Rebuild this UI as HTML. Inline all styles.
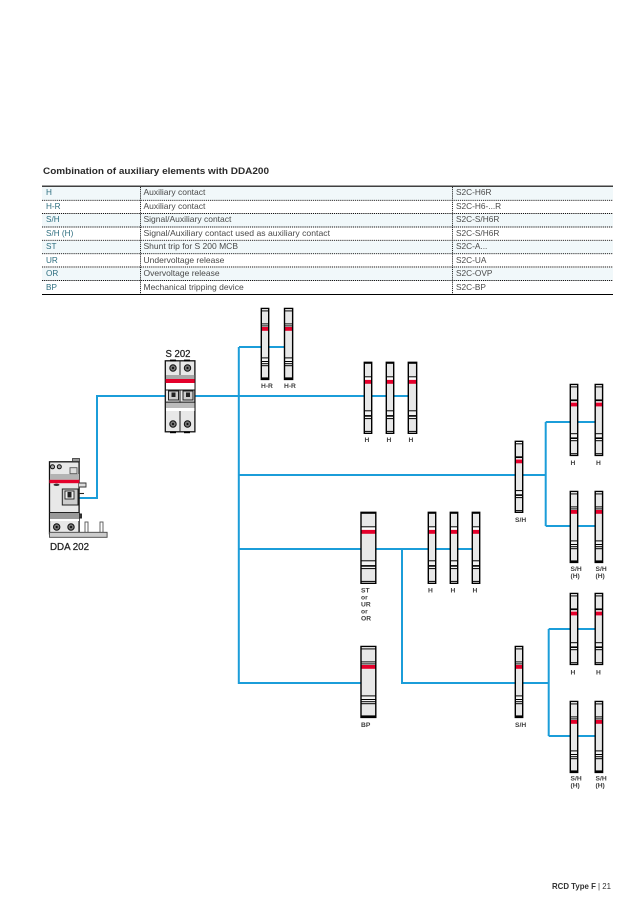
<!DOCTYPE html>
<html>
<head>
<meta charset="utf-8">
<style>
html,body{margin:0;padding:0;background:#fff}
svg{display:block}
text{font-family:"Liberation Sans",Arial,sans-serif}
.t1{font-size:8.2px;fill:#2f6f80}
.t2{font-size:8.5px;fill:#4a4a4a}
.t3{font-size:8.3px;fill:#4a4a4a}
.lb{font-size:6.7px;font-weight:bold;fill:#3c3c3c}
.w{fill:none;stroke:#1b9dd9;stroke-width:2}
.o{fill:none;stroke:#000;stroke-width:1.4;vector-effect:non-scaling-stroke}
</style>
</head>
<body>
<svg width="643" height="909" viewBox="0 0 643 909" xmlns="http://www.w3.org/2000/svg">
<defs>
<g id="A">
<rect width="7.4" height="71" fill="#e8e8e8"/>
<rect y="0" width="7.4" height="2.2" fill="#fff"/><rect y="2" width="7.4" height="1" fill="#000"/>
<rect y="15" width="7.4" height="3.4" fill="#fff"/><rect y="15" width="7.4" height="1" fill="#000"/><rect y="17" width="7.4" height="1" fill="#000"/>
<rect y="18.6" width="7.4" height="3.8" fill="#e4002b"/>
<rect y="49" width="7.4" height="8" fill="#f4f4f4"/><rect y="49" width="7.4" height="1" fill="#000"/><rect y="52.6" width="7.4" height="1" fill="#000"/><rect y="54.8" width="7.4" height="1" fill="#000"/><rect y="56.8" width="7.4" height="1" fill="#000"/>
<rect y="69" width="7.4" height="2" fill="#000"/>
<rect width="7.4" height="71" class="o"/>
</g>
<g id="B">
<rect width="7.4" height="71" fill="#e8e8e8"/>
<rect y="0" width="7.4" height="1.5" fill="#000"/>
<rect y="14" width="7.4" height="3.6" fill="#fff"/><rect y="14" width="7.4" height="1" fill="#000"/>
<rect y="17.6" width="7.4" height="3.9" fill="#e4002b"/>
<rect y="48" width="7.4" height="8.5" fill="#f4f4f4"/><rect y="48" width="7.4" height="1" fill="#000"/><rect y="52.8" width="7.4" height="1.6" fill="#000"/><rect y="55.8" width="7.4" height="1" fill="#000"/>
<rect y="69" width="7.4" height="2" fill="#fff"/><rect y="68.6" width="7.4" height="1" fill="#000"/>
<rect width="7.4" height="71" class="o"/>
</g>
<g id="C">
<rect width="7.4" height="71" fill="#e8e8e8"/>
<rect y="0" width="7.4" height="2.2" fill="#fff"/><rect y="2" width="7.4" height="1" fill="#000"/>
<rect y="15" width="7.4" height="3.4" fill="#fff"/><rect y="15" width="7.4" height="1.8" fill="#000"/>
<rect y="18.2" width="7.4" height="3.8" fill="#e4002b"/>
<rect y="48.8" width="7.4" height="7.4" fill="#f4f4f4"/><rect y="48.8" width="7.4" height="1" fill="#000"/><rect y="53" width="7.4" height="1.6" fill="#000"/><rect y="55.8" width="7.4" height="1" fill="#000"/>
<rect y="69" width="7.4" height="2" fill="#fff"/><rect y="68.8" width="7.4" height="1" fill="#000"/>
<rect width="7.4" height="71" class="o"/>
</g>
</defs>

<text x="43" y="174" font-size="9.6" font-weight="bold" fill="#2a2a2a" textLength="226" lengthAdjust="spacingAndGlyphs">Combination of auxiliary elements with DDA200</text>

<g fill="#f1f8fa">
<rect x="42" y="187" width="571" height="13"/>
<rect x="42" y="214" width="571" height="13"/>
<rect x="42" y="241" width="571" height="12.5"/>
<rect x="42" y="268" width="571" height="12.5"/>
</g>
<path d="M42 186.2H613M42 294.5H613" stroke="#000" stroke-width="1.1" fill="none"/>
<path d="M42 200.3H613M42 213.5H613M42 227H613M42 240.3H613M42 253.7H613M42 267H613M42 280.5H613" stroke="#111" stroke-width=".9" stroke-dasharray="1.2 .9" fill="none"/>
<path d="M140.5 187V294M452.5 187V294" stroke="#111" stroke-width=".9" stroke-dasharray="1.2 .9" fill="none"/>

<g class="t1">
<text x="46" y="195">H</text><text x="46" y="209">H-R</text><text x="46" y="222">S/H</text><text x="46" y="236">S/H (H)</text><text x="46" y="249">ST</text><text x="46" y="263">UR</text><text x="46" y="276">OR</text><text x="46" y="290">BP</text>
</g>
<g class="t2">
<text x="143.5" y="195">Auxiliary contact</text><text x="143.5" y="209">Auxiliary contact</text><text x="143.5" y="222">Signal/Auxiliary contact</text><text x="143.5" y="236" textLength="186.5" lengthAdjust="spacingAndGlyphs">Signal/Auxiliary contact used as auxiliary contact</text><text x="143.5" y="249">Shunt trip for S 200 MCB</text><text x="143.5" y="263">Undervoltage release</text><text x="143.5" y="276">Overvoltage release</text><text x="143.5" y="290">Mechanical tripping device</text>
</g>
<g class="t3">
<text x="456" y="195">S2C-H6R</text><text x="456" y="209">S2C-H6-...R</text><text x="456" y="222">S2C-S/H6R</text><text x="456" y="236">S2C-S/H6R</text><text x="456" y="249">S2C-A...</text><text x="456" y="263">S2C-UA</text><text x="456" y="276">S2C-OVP</text><text x="456" y="290">S2C-BP</text>
</g>

<path class="w" d="M79 498H97V396H408M239 347H285M238.8 347V683H361M239 475H515M239 549H472M402 549V683H515M523 475H546M545.7 422V526M545.7 422H595M545.7 526H595M523 683H548.7M548.7 629V736M548.7 629H595M548.7 736H595"/>

<use href="#A" transform="translate(261.3 308.4)"/>
<use href="#A" transform="translate(284.5 308.4) scale(1.1 1)"/>
<use href="#B" transform="translate(364.3 362.3)"/>
<use href="#B" transform="translate(386.3 362.3)"/>
<use href="#B" transform="translate(408.3 362.3) scale(1.13 1)"/>
<use href="#B" transform="translate(361 512.3) scale(2 1)"/>
<use href="#B" transform="translate(428.3 512.3)"/>
<use href="#B" transform="translate(450.3 512.3)"/>
<use href="#B" transform="translate(472.3 512.3)"/>
<use href="#A" transform="translate(361 646.4) scale(2 1)"/>
<use href="#C" transform="translate(515.3 441.3)"/>
<use href="#C" transform="translate(570.3 384.4)"/>
<use href="#C" transform="translate(595.2 384.4)"/>
<use href="#A" transform="translate(570.3 491.4)"/>
<use href="#A" transform="translate(595.2 491.4)"/>
<use href="#A" transform="translate(515.3 646.4)"/>
<use href="#C" transform="translate(570.3 593.4)"/>
<use href="#C" transform="translate(595.2 593.4)"/>
<use href="#A" transform="translate(570.3 701.4)"/>
<use href="#A" transform="translate(595.2 701.4)"/>

<g class="lb">
<text x="261" y="388">H-R</text><text x="284" y="388">H-R</text>
<text x="364.5" y="442">H</text><text x="386.5" y="442">H</text><text x="408.5" y="442">H</text>
<text x="361" y="592.5">ST</text><text x="361" y="599.5">or</text><text x="361" y="606.5">UR</text><text x="361" y="613.5">or</text><text x="361" y="620.5">OR</text>
<text x="428" y="592.5">H</text><text x="450.5" y="592.5">H</text><text x="472.5" y="592.5">H</text>
<text x="361" y="727">BP</text>
<text x="515" y="522">S/H</text>
<text x="570.5" y="465">H</text><text x="596" y="465">H</text>
<text x="570.5" y="571">S/H</text><text x="570.5" y="578">(H)</text><text x="595.5" y="571">S/H</text><text x="595.5" y="578">(H)</text>
<text x="515" y="727">S/H</text>
<text x="570.5" y="674.5">H</text><text x="596" y="674.5">H</text>
<text x="570.5" y="780.5">S/H</text><text x="570.5" y="787.5">(H)</text><text x="595.5" y="780.5">S/H</text><text x="595.5" y="787.5">(H)</text>
</g>

<!-- S 202 -->
<text x="165.5" y="357" font-size="9.8" fill="#222" stroke="#222" stroke-width=".25" textLength="25" lengthAdjust="spacingAndGlyphs">S 202</text>
<g>
<rect x="165.3" y="360.8" width="29.6" height="71" fill="#e8e8e8" stroke="#111" stroke-width="1.3"/>
<path d="M180 361V432" stroke="#222" stroke-width="1"/>
<rect x="170" y="359.6" width="6" height="1.8" fill="#000"/><rect x="184" y="359.6" width="6" height="1.8" fill="#000"/>
<rect x="170" y="431.4" width="6" height="1.8" fill="#000"/><rect x="184" y="431.4" width="6" height="1.8" fill="#000"/>
<rect x="166" y="375" width="28.5" height="4" fill="#a8a8a8"/>
<rect x="165.6" y="379" width="29" height="4" fill="#e4002b"/>
<rect x="166" y="383" width="28.5" height="7" fill="#fff"/>
<path d="M165.5 390H194.5" stroke="#111" stroke-width="1.1"/>
<rect x="166" y="401.5" width="28.5" height="1.4" fill="#444"/>
<rect x="166" y="403" width="28.5" height="5" fill="#bbb"/>
<rect x="166" y="408" width="28.5" height="3" fill="#fff"/>
<rect x="168.5" y="391" width="10" height="9" fill="#ccc" stroke="#222"/>
<rect x="183" y="391" width="10" height="9" fill="#ccc" stroke="#222"/>
<rect x="171.5" y="392.5" width="4" height="4.5" fill="#222"/><rect x="186" y="392.5" width="4" height="4.5" fill="#222"/>
<circle cx="173" cy="368" r="3.2" fill="#777" stroke="#111"/><circle cx="187.5" cy="368" r="3.2" fill="#777" stroke="#111"/>
<circle cx="173" cy="424" r="3.2" fill="#777" stroke="#111"/><circle cx="187.5" cy="424" r="3.2" fill="#777" stroke="#111"/>
<circle cx="173" cy="368" r="1.1" fill="#111"/><circle cx="187.5" cy="368" r="1.1" fill="#111"/>
<circle cx="173" cy="424" r="1.1" fill="#111"/><circle cx="187.5" cy="424" r="1.1" fill="#111"/>
</g>

<!-- DDA 202 -->
<text x="50" y="550" font-size="9.8" fill="#222" stroke="#222" stroke-width=".25" textLength="39" lengthAdjust="spacingAndGlyphs">DDA 202</text>
<g>
<rect x="85" y="522" width="3" height="10.5" fill="#fff" stroke="#555" stroke-width=".9"/>
<rect x="100" y="522" width="3" height="10.5" fill="#fff" stroke="#555" stroke-width=".9"/>
<rect x="49.5" y="461.8" width="29.6" height="72" fill="#e8e8e8" stroke="#111" stroke-width="1.3"/>
<rect x="50" y="474" width="29" height="5.8" fill="#b4b4b4"/>
<rect x="49.4" y="479.8" width="30" height="3.4" fill="#e4002b"/>
<rect x="50" y="512" width="29" height="7" fill="#999"/>
<path d="M49.5 512.5H79" stroke="#222" stroke-width="1"/>
<rect x="50" y="519" width="29" height="2" fill="#fff"/>
<rect x="70" y="467.7" width="7" height="6" fill="#ddd" stroke="#555" stroke-width=".9"/>
<rect x="62.3" y="489" width="15.7" height="16" fill="#ccc" stroke="#222" stroke-width="1"/>
<rect x="65" y="491" width="9" height="8" fill="#eee" stroke="#222" stroke-width=".9"/>
<rect x="67.5" y="492" width="4" height="5.5" fill="#222"/>
<circle cx="52.5" cy="466.8" r="2" fill="#aaa" stroke="#111" stroke-width="1"/><circle cx="59.3" cy="466.8" r="2" fill="#aaa" stroke="#111" stroke-width="1"/>
<ellipse cx="56.5" cy="484.8" rx="3" ry="1.2" fill="#333"/>
<circle cx="56.7" cy="527" r="3.2" fill="#777" stroke="#111"/><circle cx="71" cy="527" r="3.2" fill="#777" stroke="#111"/>
<circle cx="56.7" cy="527" r="1.1" fill="#111"/><circle cx="71" cy="527" r="1.1" fill="#111"/>
<rect x="49.5" y="532.3" width="57.6" height="5" fill="#ccc" stroke="#444" stroke-width=".9"/>
<rect x="72.5" y="458.5" width="7" height="3" fill="#999" stroke="#333" stroke-width=".8"/>
<path d="M79 483H86V487H79" fill="#ddd" stroke="#333" stroke-width=".9"/>
<path d="M79 493.5H84" stroke="#222" stroke-width="1.1"/>
<path d="M79 514H81.5V518H79" fill="#333" stroke="#222" stroke-width=".9"/>
</g>

<text x="552" y="889" font-size="8.2" fill="#333" textLength="59" lengthAdjust="spacingAndGlyphs"><tspan font-weight="bold">RCD Type F</tspan> | 21</text>
</svg>
</body>
</html>
